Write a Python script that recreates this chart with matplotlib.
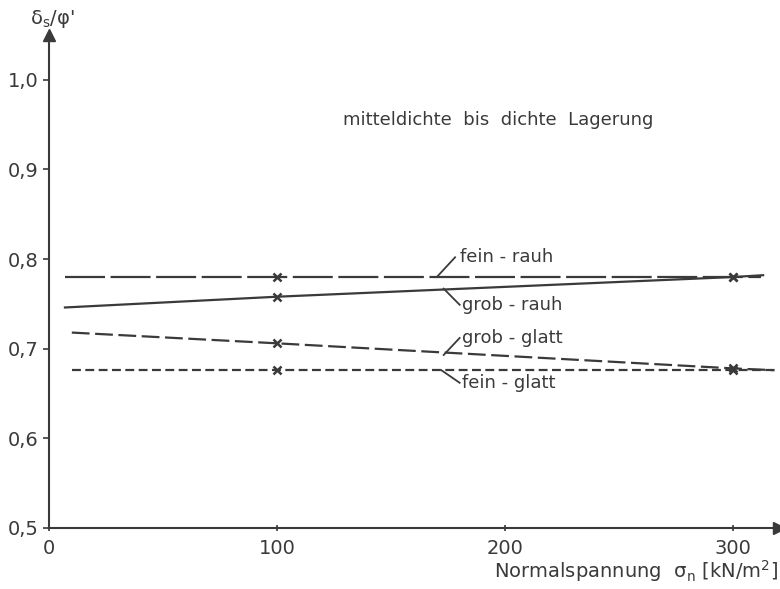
import numpy as np
import matplotlib.pyplot as plt

# Normalspannung [kN/m2] and delta_s/phi'
x_fein_rauh = [7, 100, 300, 312]
y_fein_rauh = [0.780, 0.780, 0.780, 0.780]
x_grob_rauh = [7, 100, 300, 313]
y_grob_rauh = [0.746, 0.758, 0.780, 0.782]
x_grob_glatt = [10, 100, 300, 318]
y_grob_glatt = [0.718, 0.706, 0.678, 0.676]
x_fein_glatt = [10, 100, 300, 318]
y_fein_glatt = [0.676, 0.676, 0.676, 0.676]

marker_x = [100, 300]
x_ticks = [0, 100, 200, 300]
y_ticks = [0.5, 0.6, 0.7, 0.8, 0.9, 1.0]
y_ticklabels = ['0,5', '0,6', '0,7', '0,8', '0,9', '1,0']

ink = '#3a3a3a'
fs = 13

fig = plt.figure(figsize=(7.8, 5.89), dpi=100)
ax = fig.add_axes([0.0628, 0.1036, 0.936, 0.837])
ax.set_xlim(0, 320)
ax.set_ylim(0.5, 1.05)

series = [
    (x_fein_rauh, y_fein_rauh, (0, (18, 2.5))),
    (x_grob_rauh, y_grob_rauh, '-'),
    (x_grob_glatt, y_grob_glatt, (0, (8, 2.5))),
    (x_fein_glatt, y_fein_glatt, (0, (4, 2))),
]
for xs, ys, ls in series:
    ax.plot(xs, ys, color=ink, lw=1.6, linestyle=ls)
    my = np.interp(marker_x, xs, ys)
    ax.plot(marker_x, my, linestyle='none', marker='x', color=ink, ms=6, mew=1.8)

# curve labels with leader lines
labels = [
    ('fein - rauh', (170, 0.780), (178, 0.802), (180, 0.802)),
    ('grob - rauh', (173, 0.767), (180, 0.749), (181, 0.749)),
    ('grob - glatt', (173, 0.693), (180, 0.712), (181, 0.712)),
    ('fein - glatt', (172, 0.676), (180, 0.662), (181, 0.662)),
]
for txt, p0, p1, pt in labels:
    ax.plot([p0[0], p1[0]], [p0[1], p1[1]], color=ink, lw=1.3)
    ax.text(pt[0], pt[1], txt, fontsize=fs, color=ink, ha='left', va='center')

ax.text(129, 0.955, 'mitteldichte  bis  dichte  Lagerung', fontsize=fs, color=ink,
        ha='left', va='center')

# axes drawn as arrows
for s in ['top', 'right']:
    ax.spines[s].set_visible(False)
for s in ['left', 'bottom']:
    ax.spines[s].set_color(ink)
    ax.spines[s].set_linewidth(1.5)
ax.plot(1, 0, '>', color=ink, ms=8, transform=ax.transAxes, clip_on=False)
ax.plot(0, 1, '^', color=ink, ms=8, transform=ax.transAxes, clip_on=False)

ax.set_xticks(x_ticks)
ax.set_xticklabels([str(v) for v in x_ticks])
ax.set_yticks(y_ticks)
ax.set_yticklabels(y_ticklabels)
ax.tick_params(axis='both', colors=ink, labelcolor=ink, labelsize=fs + 1, width=1.2, length=4)
ax.tick_params(axis='x', direction='inout', pad=6)

fig.text(0.038, 0.968, r"δ$_\mathregular{s}$/φ'", fontsize=fs + 1, color=ink,
         ha='left', va='center')
fig.text(0.997, 0.008, r'Normalspannung  σ$_\mathregular{n}$ [kN/m$^\mathregular{2}$]',
         fontsize=fs + 1, color=ink, ha='right', va='bottom')

fig.savefig('out.png', dpi=100)
